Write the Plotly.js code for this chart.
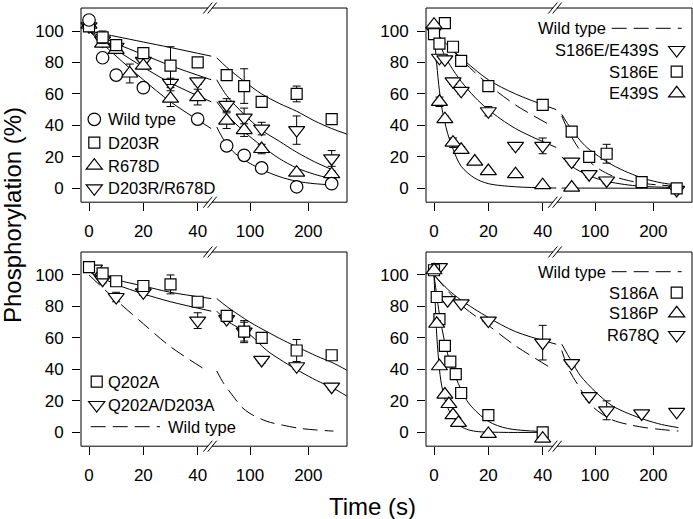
<!DOCTYPE html>
<html><head><meta charset="utf-8">
<script src="https://cdn.plot.ly/plotly-3.0.1.min.js"></script>
<style>html,body{margin:0;padding:0;background:#fff}#chart{width:693px;height:519px}</style>
</head><body><div id="chart"></div>
<script>
// ================= DATA =================
// Panel A (top left)
const tA_wt    = [0,5,10,20,40,60,90,120,180,240];
const yA_wt    = [107,83,72,64,44,27,21,13,1,3];
const tA_d203r = [0,5,10,20,30,40,60,90,120,180,240];
const yA_d203r = [103,96,91,86,78,80,72,65,55,60,44];
const eA_d203r = [0,4,2,3,12,2,2,11,3,5,3];
const tA_r678d = [0,5,10,15,20,30,40,60,90,120,180,240];
const yA_r678d = [104,92,88,73,78,57,58,43,37,25,10,9];
const eA_r678d = [0,2,2,6,2,5,5,5,4,3,1,2];
const tA_dbl   = [0,5,10,20,30,40,60,90,120,180,240];
const yA_dbl   = [103,94,90,81,67,68,53,45,38,37,19];
const eA_dbl   = [0,2,2,2,3,2,4,6,4,9,5];
// fitted curves, panel A
const fA_wt_t1 = [0,10,20,30,45],            fA_wt_y1 = [100,84,69,55,38];
const fA_wt_t2 = [43,50,60,75,90,120,150,180,210,240], fA_wt_y2 = [39,34,28,22,18,12,7.5,4.5,3,2.2];
const fA_d2_t1 = [0,10,20,30,45],            fA_d2_y1 = [100,96.5,93,89.5,84];
const fA_d2_t2 = [43,60,90,120,150,180,210,240,266], fA_d2_y2 = [83,77,68,60,54,49,43,38,34.5];
const fA_r6_t1 = [0,10,20,30,45],            fA_r6_y1 = [100,88,77,67,55];
const fA_r6_t2 = [43,60,90,120,150,180,210,240], fA_r6_y2 = [55,47,36,27,19,13,9,6];
const fA_db_t1 = [0,10,20,30,45],            fA_db_y1 = [100,92,85,78,69];
const fA_db_t2 = [43,60,90,120,150,180,210,240], fA_db_y2 = [69,59,47,37,30,23,17,12];

// Panel B (top right)
const tB_dbl   = [0,2,4,7,10,20,30,40,60,90,120,240];
const yB_dbl   = [100,83,82,68,62,49,27,27,17,9,5,-1];
const eB_dbl   = [0,2,2,2,2,3,2,5,2,2,2,2];
const tB_s186e = [0,2,4,7,10,20,40,60,90,120,180,240];
const yB_s186e = [98,92,105,90,81,65,53,36,20,22,4,0];
const eB_s186e = [0,2,0,2,2,3,3,2,2,6,1,1];
const tB_e439s = [0,2,4,7,10,15,20,30,40,60];
const yB_e439s = [104,55,44,29,24.5,17,11,9,2,0.5];
const eB_e439s = [0,3,2,3,2,1,1,1,1,1];
const fB_wt_t1 = [0,10,20,30,43],            fB_wt_y1 = [100,82,66,53,40];
const fB_wt_t2 = [43,55,71,86,100,129,157,186,214,243], fB_wt_y2 = [46,36,26,19,14,8,5,3,2,1.2];
const fB_s_t1  = [0,5,10,20,30,45],          fB_s_y1  = [100,91,83,69,60,50];
const fB_s_t2  = [43,55,71,86,100,129,157,186,214,243], fB_s_y2 = [47,40,32,26,22,15,10,6,3.5,2];
const fB_db_t1 = [0,3,6,10,15,20,30,45],     fB_db_y1 = [100,88,78,68,58,50,38,26];
const fB_db_t2 = [43,60,90,120,150,180,240], fB_db_y2 = [20,14,8,4.5,2.5,1.3,0.5];
const fB_e_t1  = [0,1,2,3,4,5,7,10,15,20,30,45], fB_e_y1 = [100,79,62,50,42,35,25,14,6.5,3,1,0.2];
const fB_e_t2  = [43,240],                   fB_e_y2  = [0.2,0];

// Panel C (bottom left)
const tC_q     = [0,5,10,20,30,40,60,90,120,180,240];
const yC_q     = [105,101,96,93,94,83,74,64,60,52,49];
const eC_q     = [2,2,2,2,6,2,2,7,2,7,2];
const tC_qd    = [2,5,10,20,40,60,90,120,180,240];
const yC_qd    = [104,97,86,89,71,72,64,46,42,29];
const eC_qd    = [2,2,3,2,5,2,6,2,2,2];
const fC_q_t1  = [0,10,20,30,45],            fC_q_y1  = [103,97,93,89,85];
const fC_q_t2  = [43,60,100,129,157,186,214,243,266], fC_q_y2 = [85,80,70,64,58.5,53.4,48.5,44,39.5];
const fC_qd_t1 = [0,10,20,30,45],            fC_qd_y1 = [102,94,88,83,77];
const fC_qd_t2 = [43,60,100,129,157,186,214,243,266], fC_qd_y2 = [77,71,62,52,45,38.6,33,28,23];
const fC_wt_t1 = [0,10,20,30,42],            fC_wt_y1 = [100,84,69,54.4,40.7];
const fC_wt_t2 = [43,55,71,86,100,129,157,186,214,243], fC_wt_y2 = [39,31,23,16,12,7,4.5,2.5,1.5,0.8];

// Panel D (bottom right)
const tD_a     = [0,1,2,4,6,8,10,20,40];
const yD_a     = [103,86,72,55,45,37,25,11,0];
const eD_a     = [0,1,1,1,1,1,2,1,1];
const tD_p     = [0,1,2,4,5.5,7,9,20,40];
const yD_p     = [103,69,42,24,18,11,6,-1,-4];
const eD_p     = [0,2,1,1,1,1,1,1,1];
const tD_q     = [2,5,10,20,40,60,90,120,180,240];
const yD_q     = [105,84,82,71,57,44,23,14,12,13];
const eD_q     = [0,1,1,2,11,2,2,6,1,1];
const fD_wt_t1 = [0,10,20,30,42],            fD_wt_y1 = [100,81,68,55,42];
const fD_wt_t2 = [43,55,71,86,100,129,157,186,214,243], fD_wt_y2 = [52,40,30,21,15,8,5,3,1.8,0.8];
const fD_q_t1  = [0,5,10,20,30,45],          fD_q_y1  = [100,91,84,73,64,56];
const fD_q_t2  = [43,60,75,100,129,157,186,214,243], fD_q_y2 = [56,45,36,26,17,12,8,5,3];
const fD_a_t1  = [0,1,2,4,6,8,10,13,20,27,40], fD_a_y1 = [100,87,75,57,44,35,27,18,7,2.5,0.5];
const fD_p_t1  = [0,0.5,1,1.5,2.5,4,5.5,7,9.3,12,15.5,25,40], fD_p_y1 = [100,80,62,50,33,21,14,10,4.5,2,0.6,0,0];

// tick labels
const seg1Ticks = [0,20,40];
const seg2Ticks = [100,200];
const yTicks = [0,20,40,60,80,100];

// ================= LAYOUT HELPERS =================
const W = 693, H = 519;
const PX = v => v / W, PY = v => 1 - v / H;
const FONT = 'Liberation Sans, Arial, Helvetica, sans-serif';
const BREAK = 45;
const SEG1_RANGE = [-2.945, 45.64];
const SEG2_RANGE = [36.57, 266.3];
const Y_RANGE = [-8.8, 114.6];
const panels = [
  {x0:81,  xb:213, x1:347, y0:8.03, y1:202.2},
  {x0:426, xb:558, x1:692, y0:8.03, y1:202.2},
  {x0:81,  xb:213, x1:347, y0:252,  y1:446.2},
  {x0:426, xb:558, x1:692, y0:252,  y1:446.2}
];
const xn = k => k === 1 ? 'x' : 'x' + k;
const yn = k => k === 1 ? 'y' : 'y' + k;
const xkey = k => k === 1 ? 'xaxis' : 'xaxis' + k;
const ykey = k => k === 1 ? 'yaxis' : 'yaxis' + k;

const tickFont = {family: FONT, size: 17, color: '#000'};
const layout = {
  width: W, height: H, margin: {l:0, r:0, t:0, b:0},
  paper_bgcolor: '#fff', plot_bgcolor: 'rgba(0,0,0,0)',
  showlegend: false, shapes: [], annotations: [],
  font: {family: FONT, color: '#000'}
};
panels.forEach((p, i) => {
  const k1 = 2*i + 1, k2 = 2*i + 2, ky = i + 1;
  const xb = {ticks:'outside', ticklen:8, tickwidth:1, tickcolor:'#000', showline:false,
              showgrid:false, zeroline:false, tickfont:tickFont, fixedrange:true,
              ticklabelstandoff:5, anchor: yn(ky)};
  layout[xkey(k1)] = Object.assign({}, xb, {domain:[PX(p.x0), PX(p.xb)], range:SEG1_RANGE,
      tickmode:'array', tickvals:seg1Ticks, ticktext:seg1Ticks.map(String)});
  layout[xkey(k2)] = Object.assign({}, xb, {domain:[PX(p.xb), PX(p.x1)], range:SEG2_RANGE,
      tickmode:'array', tickvals:seg2Ticks, ticktext:seg2Ticks.map(String)});
  layout[ykey(ky)] = {domain:[PY(p.y1), PY(p.y0)], range:Y_RANGE, anchor: xn(k1),
      ticks:'outside', ticklen:8, tickwidth:1, tickcolor:'#000', showline:false,
      showgrid:false, zeroline:false, tickfont:tickFont, fixedrange:true,
      tickmode:'array', tickvals:yTicks, ticktext:yTicks.map(String), ticklabelstandoff:5};
  // frame
  layout.shapes.push({type:'rect', xref:'paper', yref:'paper', x0:PX(p.x0), x1:PX(p.x1),
      y0:PY(p.y1), y1:PY(p.y0), line:{color:'#000', width:1}, fillcolor:'rgba(0,0,0,0)'});
  // axis break marks on top and bottom edges
  [p.y0, p.y1].forEach(ey => {
    layout.shapes.push({type:'line', xref:'paper', yref:'paper', x0:PX(p.xb-4.8), x1:PX(p.xb-1.2),
        y0:PY(ey), y1:PY(ey), line:{color:'#fff', width:3}});
    [[-9.7,-0.7],[-5.3,3.7]].forEach(d => {
      layout.shapes.push({type:'line', xref:'paper', yref:'paper', x0:PX(p.xb+d[0]), x1:PX(p.xb+d[1]),
          y0:PY(ey+5.5), y1:PY(ey-5.5), line:{color:'#000', width:1}});
    });
  });
});

// ================= TRACES =================
const traces = [];
function curve(t, y, xk, yk, dashed) {
  traces.push({type:'scatter', mode:'lines', x:t, y:y, xaxis:xn(xk), yaxis:yn(yk),
    line:{color:'#000', width:1, shape:'spline', smoothing:0.9, dash: dashed ? '15px,7px' : 'solid'},
    hoverinfo:'skip', showlegend:false});
}
function fits(i, t1, y1, t2, y2, dashed) {
  if (t1) curve(t1, y1, 2*i+1, i+1, dashed);
  if (t2) curve(t2, y2, 2*i+2, i+1, dashed);
}
const SYM = {circle:['circle',12.5], square:['square',11], up:['triangle-up',14], down:['triangle-down',14]};
function points(i, t, y, e, kind) {
  const segs = [{x:[],y:[],e:[]},{x:[],y:[],e:[]}];
  t.forEach((v, j) => { const s = v <= BREAK ? segs[0] : segs[1];
    s.x.push(v); s.y.push(y[j]); s.e.push(e ? e[j] : 0); });
  segs.forEach((s, k) => {
    if (!s.x.length) return;
    traces.push({type:'scatter', mode:'markers', x:s.x, y:s.y, xaxis:xn(2*i+1+k), yaxis:yn(i+1),
      cliponaxis:false,
      marker:{symbol:SYM[kind][0], size:SYM[kind][1], color:'#fff', line:{color:'#000', width:1.2}},
      error_y:{type:'data', array:s.e, visible:true, color:'#000', thickness:1, width:4},
      hoverinfo:'skip', showlegend:false});
  });
}
// Panel A
fits(0, fA_wt_t1, fA_wt_y1, fA_wt_t2, fA_wt_y2);
fits(0, fA_d2_t1, fA_d2_y1, fA_d2_t2, fA_d2_y2);
fits(0, fA_r6_t1, fA_r6_y1, fA_r6_t2, fA_r6_y2);
fits(0, fA_db_t1, fA_db_y1, fA_db_t2, fA_db_y2);
points(0, tA_dbl, yA_dbl, eA_dbl, 'down');
points(0, tA_r678d, yA_r678d, eA_r678d, 'up');
points(0, tA_d203r, yA_d203r, eA_d203r, 'square');
points(0, tA_wt, yA_wt, null, 'circle');
// Panel B
fits(1, fB_wt_t1, fB_wt_y1, fB_wt_t2, fB_wt_y2, true);
fits(1, fB_s_t1, fB_s_y1, fB_s_t2, fB_s_y2);
fits(1, fB_db_t1, fB_db_y1, fB_db_t2, fB_db_y2);
fits(1, fB_e_t1, fB_e_y1, fB_e_t2, fB_e_y2);
points(1, tB_dbl, yB_dbl, eB_dbl, 'down');
points(1, tB_s186e, yB_s186e, eB_s186e, 'square');
points(1, tB_e439s, yB_e439s, eB_e439s, 'up');
// Panel C
fits(2, fC_wt_t1, fC_wt_y1, fC_wt_t2, fC_wt_y2, true);
fits(2, fC_q_t1, fC_q_y1, fC_q_t2, fC_q_y2);
fits(2, fC_qd_t1, fC_qd_y1, fC_qd_t2, fC_qd_y2);
points(2, tC_qd, yC_qd, eC_qd, 'down');
points(2, tC_q, yC_q, eC_q, 'square');
// Panel D
fits(3, fD_wt_t1, fD_wt_y1, fD_wt_t2, fD_wt_y2, true);
fits(3, fD_q_t1, fD_q_y1, fD_q_t2, fD_q_y2);
fits(3, fD_a_t1, fD_a_y1, null, null);
fits(3, fD_p_t1, fD_p_y1, null, null);
points(3, tD_q, yD_q, eD_q, 'down');
points(3, tD_a, yD_a, eD_a, 'square');
points(3, tD_p, yD_p, eD_p, 'up');

// ================= LEGENDS (text + key symbols) =================
const legFont = {family: FONT, size: 16.5, color: '#000'};
function label(text, x, y, anchor) {
  layout.annotations.push({text, xref:'paper', yref:'paper', x:PX(x), y:PY(y), xanchor:anchor,
    yanchor:'middle', showarrow:false, font:legFont, borderpad:0});
}
const sh = s => layout.shapes.push(Object.assign({xref:'paper', yref:'paper', line:{color:'#000', width:1.2}}, s));
function key(kind, cx, cy) {
  if (kind === 'circle') { const r = 6.25;
    sh({type:'circle', x0:PX(cx-r), x1:PX(cx+r), y0:PY(cy+r), y1:PY(cy-r), fillcolor:'#fff'}); }
  else if (kind === 'square') { const r = 5.5;
    sh({type:'rect', x0:PX(cx-r), x1:PX(cx+r), y0:PY(cy+r), y1:PY(cy-r), fillcolor:'#fff'}); }
  else { const r = 7, hw = r*2/Math.sqrt(3);
    const apex = kind === 'up' ? cy - r : cy + r, base = kind === 'up' ? cy + r/2 : cy - r/2;
    sh({type:'path', path:`M${PX(cx-hw)},${PY(base)} L${PX(cx+hw)},${PY(base)} L${PX(cx)},${PY(apex)} Z`, fillcolor:'#fff'}); }
}
function dashKey(x0, x1, y) {
  sh({type:'line', x0:PX(x0), x1:PX(x1), y0:PY(y), y1:PY(y), line:{color:'#000', width:1, dash:'15px,7px'}});
}
// Panel A legend
[['circle','Wild type',119.3],['square','D203R',142.7],['up','R678D',165.7],['down','D203R/R678D',188.3]]
  .forEach(([k, t, y]) => { key(k, 94.3, y); label(t, 106.7, y, 'left'); });
// Panel B legend
label('Wild type', 606.7, 28.3, 'right'); dashKey(611.7, 681.7, 28.3);
[['down','S186E/E439S',50],['square','S186E',71.7],['up','E439S',93.3]]
  .forEach(([k, t, y]) => { key(k, 676.7, y); label(t, 660, y, 'right'); });
// Panel C legend
[['square','Q202A',381.7],['down','Q202A/D203A',405]]
  .forEach(([k, t, y]) => { key(k, 96.7, y); label(t, 107.3, y, 'left'); });
dashKey(90.7, 160, 426.7); label('Wild type', 166.7, 426.7, 'left');
// Panel D legend
label('Wild type', 606.7, 271.7, 'right'); dashKey(611.7, 681.7, 271.7);
[['square','S186A',292.7],['up','S186P',313.3],['down','R678Q',335]]
  .forEach(([k, t, y]) => { key(k, 676.7, y); label(t, 660, y, 'right'); });

// axis titles
layout.annotations.push({text:'Phosphorylation (%)', xref:'paper', yref:'paper', x:PX(12), y:PY(215),
  xanchor:'center', yanchor:'middle', textangle:-90, showarrow:false, font:{family:FONT, size:24, color:'#000'}});
layout.annotations.push({text:'Time (s)', xref:'paper', yref:'paper', x:PX(372), y:PY(506),
  xanchor:'center', yanchor:'middle', showarrow:false, font:{family:FONT, size:24, color:'#000'}});

Plotly.newPlot('chart', traces, layout, {staticPlot:true, displayModeBar:false});
</script>
</body></html>
